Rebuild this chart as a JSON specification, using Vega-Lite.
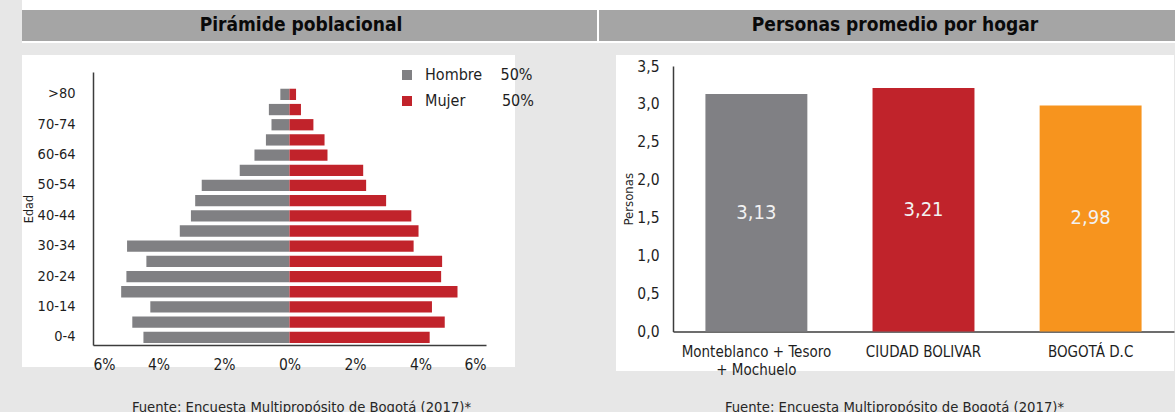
{
  "$schema": "https://vega.github.io/schema/vega-lite/v6.json",
  "background": "#e7e7e7",
  "padding": {"left": 22, "top": 0, "right": 0, "bottom": 0},
  "config": {
    "font": "DejaVu Sans Condensed, DejaVu Sans",
    "view": {"stroke": null},
    "axis": {"grid": false, "ticks": false, "domainColor": "#3c3c3c", "domainWidth": 1.5, "labelColor": "#1e1e1e", "titleColor": "#1e1e1e", "titleFontWeight": "normal"},
    "locale": {"number": {"decimal": ",", "thousands": ".", "grouping": [3], "currency": ["$", ""]}}
  },
  "datasets": {
    "paneles": [
      {"titulo": "Pirámide poblacional", "fila": "encabezado", "fuente": "Fuente: Encuesta Multipropósito de Bogotá (2017)*"},
      {"titulo": "Personas promedio por hogar", "fila": "encabezado", "fuente": "Fuente: Encuesta Multipropósito de Bogotá (2017)*"}
    ],
    "piramide": [
      {"edad": ">80", "sexo": "Hombre", "porcentaje": -0.28}, {"edad": ">80", "sexo": "Mujer", "porcentaje": 0.20},
      {"edad": "75-79", "sexo": "Hombre", "porcentaje": -0.63}, {"edad": "75-79", "sexo": "Mujer", "porcentaje": 0.35},
      {"edad": "70-74", "sexo": "Hombre", "porcentaje": -0.55}, {"edad": "70-74", "sexo": "Mujer", "porcentaje": 0.73},
      {"edad": "65-69", "sexo": "Hombre", "porcentaje": -0.72}, {"edad": "65-69", "sexo": "Mujer", "porcentaje": 1.07},
      {"edad": "60-64", "sexo": "Hombre", "porcentaje": -1.07}, {"edad": "60-64", "sexo": "Mujer", "porcentaje": 1.16},
      {"edad": "55-59", "sexo": "Hombre", "porcentaje": -1.52}, {"edad": "55-59", "sexo": "Mujer", "porcentaje": 2.25},
      {"edad": "50-54", "sexo": "Hombre", "porcentaje": -2.68}, {"edad": "50-54", "sexo": "Mujer", "porcentaje": 2.34},
      {"edad": "45-49", "sexo": "Hombre", "porcentaje": -2.88}, {"edad": "45-49", "sexo": "Mujer", "porcentaje": 2.95},
      {"edad": "40-44", "sexo": "Hombre", "porcentaje": -3.01}, {"edad": "40-44", "sexo": "Mujer", "porcentaje": 3.72},
      {"edad": "35-39", "sexo": "Hombre", "porcentaje": -3.35}, {"edad": "35-39", "sexo": "Mujer", "porcentaje": 3.94},
      {"edad": "30-34", "sexo": "Hombre", "porcentaje": -4.96}, {"edad": "30-34", "sexo": "Mujer", "porcentaje": 3.79},
      {"edad": "25-29", "sexo": "Hombre", "porcentaje": -4.37}, {"edad": "25-29", "sexo": "Mujer", "porcentaje": 4.66},
      {"edad": "20-24", "sexo": "Hombre", "porcentaje": -4.98}, {"edad": "20-24", "sexo": "Mujer", "porcentaje": 4.63},
      {"edad": "15-19", "sexo": "Hombre", "porcentaje": -5.14}, {"edad": "15-19", "sexo": "Mujer", "porcentaje": 5.13},
      {"edad": "10-14", "sexo": "Hombre", "porcentaje": -4.25}, {"edad": "10-14", "sexo": "Mujer", "porcentaje": 4.35},
      {"edad": "5-9", "sexo": "Hombre", "porcentaje": -4.80}, {"edad": "5-9", "sexo": "Mujer", "porcentaje": 4.74},
      {"edad": "0-4", "sexo": "Hombre", "porcentaje": -4.46}, {"edad": "0-4", "sexo": "Mujer", "porcentaje": 4.28}
    ],
    "hogar": [
      {"zona": "Monteblanco + Tesoro + Mochuelo", "personas": 3.13},
      {"zona": "CIUDAD BOLIVAR", "personas": 3.21},
      {"zona": "BOGOTÁ D.C", "personas": 2.98}
    ]
  },
  "spacing": 12,
  "vconcat": [
    {
      "width": 1153,
      "height": 43,
      "view": {"fill": "white", "stroke": null},
      "data": {"name": "paneles"},
      "encoding": {
        "x": {"field": "titulo", "type": "nominal", "sort": null, "axis": null,
              "scale": {"range": [-17, 1169], "paddingInner": 0.003367, "paddingOuter": 0}},
        "y": {"field": "fila", "type": "nominal", "axis": null,
              "scale": {"range": [0, 43], "paddingInner": 0, "paddingOuter": 0.19355, "align": 0.8333}}
      },
      "layer": [
        {"mark": {"type": "rect", "fill": "#a5a5a5", "clip": true}},
        {"mark": {"type": "text", "fontSize": 19, "fontWeight": "bold", "color": "#0a0a0a", "baseline": "middle"},
         "encoding": {"text": {"field": "titulo"}}}
      ]
    },
    {
      "spacing": 101,
      "hconcat": [
        {
          "width": 493,
          "height": 312,
          "view": {"fill": "white", "stroke": null},
          "data": {"name": "piramide"},
          "mark": {"type": "bar"},
          "encoding": {
            "y": {"field": "edad", "type": "ordinal",
                  "sort": [">80", "75-79", "70-74", "65-69", "60-64", "55-59", "50-54", "45-49", "40-44", "35-39", "30-34", "25-29", "20-24", "15-19", "10-14", "5-9", "0-4"],
                  "scale": {"range": [17, 290], "paddingInner": 0.256, "paddingOuter": 0.619, "align": 0.89},
                  "axis": {"title": "Edad", "values": [">80", "70-74", "60-64", "50-54", "40-44", "30-34", "20-24", "10-14", "0-4"],
                           "offset": -71, "labelPadding": 18, "labelFontSize": 14.5, "titleFontSize": 12.5,
                           "titleX": -65, "titleBaseline": "middle", "titlePadding": 0}},
            "x": {"field": "porcentaje", "type": "quantitative", "stack": null,
                  "scale": {"domain": [-6, 6], "range": [71, 464], "nice": false, "zero": false},
                  "axis": {"title": null, "values": [-6, -4, -2, 0, 2, 4, 6], "labelExpr": "abs(datum.value) + '%'",
                           "offset": -22, "labelPadding": 12, "labelFontSize": 15.5}},
            "color": {"field": "sexo", "type": "nominal",
                      "scale": {"domain": ["Hombre", "Mujer"], "range": ["#808083", "#c1232b"]},
                      "legend": {"title": null, "orient": "none", "legendX": 377, "legendY": 67, "symbolType": "square",
                                 "symbolSize": 100, "symbolStrokeWidth": 0, "labelFontSize": 16, "labelOffset": 10,
                                 "rowPadding": 10, "padding": 0, "labelColor": "#1e1e1e",
                                 "labelExpr": "datum.label == 'Hombre' ? 'Hombre\u00a0\u00a0\u00a0\u00a050%' : 'Mujer\u00a0\u00a0\u00a0\u00a0\u00a0\u00a0\u00a0\u00a050%'"}}
          }
        },
        {
          "width": 558,
          "height": 316,
          "view": {"fill": "white", "stroke": null},
          "data": {"name": "hogar"},
          "encoding": {
            "x": {"field": "zona", "type": "nominal", "sort": null,
                  "scale": {"range": [57, 558], "paddingInner": 0.39, "paddingOuter": 0.194},
                  "axis": {"title": null, "labelAngle": 0, "offset": -39.5, "labelPadding": 13, "labelFontSize": 15,
                           "labelLineHeight": 17.6, "labelOverlap": false, "labelLimit": 300,
                           "labelExpr": "datum.value == 'Monteblanco + Tesoro + Mochuelo' ? ['Monteblanco + Tesoro', '+ Mochuelo'] : datum.label"}}
          },
          "layer": [
            {
              "mark": {"type": "bar"},
              "encoding": {
                "y": {"field": "personas", "type": "quantitative",
                      "scale": {"domain": [0, 3.5], "range": [276.5, 11], "nice": false},
                      "axis": {"title": "Personas", "values": [0, 0.5, 1, 1.5, 2, 2.5, 3, 3.5], "format": ".1f",
                               "offset": -57, "labelPadding": 14, "labelFontSize": 15.5, "titleFontSize": 13,
                               "titleX": -45, "titleBaseline": "middle", "titlePadding": 0}},
                "fill": {"field": "zona", "type": "nominal", "sort": null,
                         "scale": {"range": ["#808084", "#c0232b", "#f7941e"]}, "legend": null}
              }
            },
            {
              "mark": {"type": "text", "fontSize": 20, "color": "#f2f2f2", "baseline": "middle"},
              "encoding": {
                "y": {"field": "personas", "type": "quantitative",
                      "scale": {"domain": [0, 7], "range": [276.5, 11], "nice": false}, "axis": null},
                "text": {"field": "personas", "type": "quantitative", "format": ".2f"}
              }
            }
          ],
          "resolve": {"scale": {"y": "independent"}}
        }
      ]
    },
    {
      "width": 1153,
      "height": 29,
      "data": {"name": "paneles"},
      "mark": {"type": "text", "fontSize": 14.7, "color": "#262626", "baseline": "alphabetic", "dy": 7},
      "encoding": {
        "x": {"field": "titulo", "type": "nominal", "sort": null, "axis": null,
              "scale": {"range": [-17, 1169], "paddingInner": 0.003367, "paddingOuter": 0}},
        "text": {"field": "fuente"}
      }
    }
  ]
}
